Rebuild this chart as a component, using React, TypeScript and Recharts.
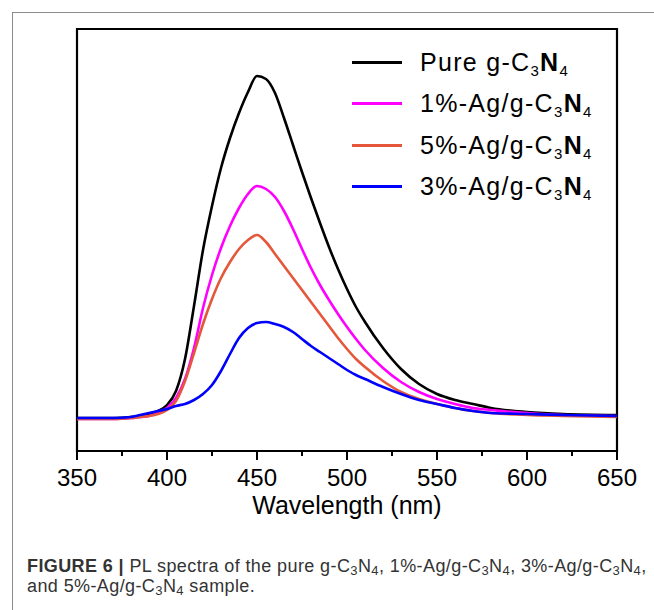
import { LineChart, Line, XAxis, YAxis, Legend, ReferenceArea } from 'recharts';

const wavelengths = [
  350, 360, 370, 380, 385, 390, 395, 400, 405, 410, 415, 420, 425, 430, 435, 440, 445, 450, 455, 460,
  465, 470, 475, 480, 485, 490, 495, 500, 505, 510, 520, 530, 540, 550, 560, 570, 580, 600, 620, 650,
];

const pureCN = [
  33, 33, 33, 34, 35, 37, 40, 46, 60, 92, 145, 201, 245, 283, 313, 338, 359, 375, 372, 358,
  333, 306, 279, 253, 228, 204, 182, 162, 144, 129, 103, 82, 67, 57, 51, 47, 43, 39, 37, 36,
];
const ag1 = [
  32, 32, 32, 33, 34, 35, 38, 43, 53, 72, 103, 143, 176, 203, 225, 243, 257, 265, 262, 254,
  240, 222, 202, 183, 166, 151, 137, 124, 112, 101, 83, 69, 59, 52, 47, 43, 41, 38, 36, 35,
];
const ag5 = [
  32, 32, 32, 33, 34, 35, 37, 41, 50, 70, 98, 127, 152, 173, 189, 202, 211, 216, 209, 197,
  185, 173, 161, 149, 137, 125, 113, 102, 92, 84, 70, 59, 52, 47, 43, 40, 38, 36, 35, 34,
];
const ag3 = [
  33, 33, 33, 34, 36, 38, 40, 42, 45, 47, 51, 57, 66, 80, 97, 113, 123, 128, 129, 127,
  124, 119, 112, 105, 99, 93, 87, 81, 76, 72, 64, 57, 51, 47, 43, 40, 38, 37, 36, 35,
];

const xTicks = [350, 375, 400, 425, 450, 475, 500, 525, 550, 575, 600, 625, 650];

const series = [
  { key: 'pure', label: 'Pure g-C', color: '#000000', values: pureCN },
  { key: 'ag1', label: '1%-Ag/g-C', color: '#ff00ff', values: ag1 },
  { key: 'ag5', label: '5%-Ag/g-C', color: '#e4573a', values: ag5 },
  { key: 'ag3', label: '3%-Ag/g-C', color: '#0000ff', values: ag3 },
];

const data = wavelengths.map((wl, i) => {
  const row: Record<string, number> = { wl };
  series.forEach((s) => {
    row[s.key] = s.values[i];
  });
  return row;
});

const FONT = "'Liberation Sans', Arial, Helvetica, sans-serif";

function WaveTick({ x, y, payload }: any) {
  const major = payload.value % 50 === 0;
  return (
    <g>
      <line x1={x} x2={x} y1={y} y2={y + (major ? 9 : 5)} stroke="#000" strokeWidth={2} />
      {major && (
        <text x={x} y={y + 35} textAnchor="middle" fontSize={24} fontFamily={FONT} fill="#000">
          {payload.value}
        </text>
      )}
    </g>
  );
}

function YTitle({ viewBox }: any) {
  const cx = viewBox.x - 20;
  const cy = viewBox.y + viewBox.height / 2 - 10;
  return (
    <text
      x={cx}
      y={cy}
      transform={`rotate(-90 ${cx} ${cy})`}
      textAnchor="middle"
      fontSize={22}
      fontFamily={FONT}
      fill="#000"
    >
      Intensity (a.u.)
    </text>
  );
}

function Formula({ prefix }: { prefix: string }) {
  return (
    <span>
      {prefix}
      <span style={{ fontSize: 15, position: 'relative', top: 5 }}>3</span>
      <b>N</b>
      <span style={{ fontSize: 15, position: 'relative', top: 5 }}>4</span>
    </span>
  );
}

function renderLegend() {
  return (
    <div style={{ fontFamily: FONT, fontSize: 25, color: '#000', letterSpacing: 1.3 }}>
      {series.map((s) => (
        <div key={s.key} style={{ display: 'flex', alignItems: 'center', height: 41.3 }}>
          <div style={{ width: 50, height: 3, background: s.color, marginRight: 18 }} />
          <Formula prefix={s.label} />
        </div>
      ))}
    </div>
  );
}

const sub = { fontSize: 13, lineHeight: 0, verticalAlign: -3 };

export default function App() {
  return (
    <div
      style={{
        position: 'absolute',
        left: 0,
        top: 0,
        width: 654,
        height: 610,
        overflow: 'hidden',
        background: '#fff',
      }}
    >
      <div
        style={{
          position: 'absolute',
          left: 12,
          top: 12,
          width: 700,
          height: 700,
          border: '1.5px solid #8c8c8c',
        }}
      />
      <div style={{ position: 'absolute', left: 0, top: 0 }}>
        <LineChart width={654} height={530} data={data} margin={{ top: 29, right: 37, left: 77, bottom: 9 }}>
          <XAxis
            dataKey="wl"
            type="number"
            domain={[350, 650]}
            ticks={xTicks}
            interval={0}
            tickSize={0}
            tickMargin={0}
            tickLine={false}
            axisLine={false}
            tick={<WaveTick />}
            height={70}
            label={{
              value: 'Wavelength (nm)',
              position: 'insideBottom',
              offset: 7,
              fontSize: 25,
              fontFamily: FONT,
              fill: '#000',
            }}
          />
          <YAxis
            domain={[0, 422]}
            width={0}
            tick={false}
            tickLine={false}
            axisLine={false}
            label={<YTitle />}
          />
          <ReferenceArea x1={350} x2={650} y1={0} y2={422} fill="none" stroke="#000" strokeWidth={2.2} />
          {series.map((s) => (
            <Line
              key={s.key}
              type="monotone"
              dataKey={s.key}
              stroke={s.color}
              strokeWidth={2.6}
              dot={false}
              isAnimationActive={false}
            />
          ))}
          <Legend
            layout="horizontal"
            verticalAlign="middle"
            align="center"
            content={renderLegend}
            wrapperStyle={{ left: 352, top: 42, width: 280 }}
          />
        </LineChart>
      </div>
      <div
        style={{
          position: 'absolute',
          left: 27,
          top: 556,
          width: 640,
          fontFamily: FONT,
          fontSize: 18,
          letterSpacing: 0.4,
          lineHeight: '20px',
          color: '#333',
          whiteSpace: 'nowrap',
        }}
      >
        <div>
          <b>FIGURE 6 |</b> PL spectra of the pure g-C<sub style={sub}>3</sub>N<sub style={sub}>4</sub>, 1%-Ag/g-C
          <sub style={sub}>3</sub>N<sub style={sub}>4</sub>, 3%-Ag/g-C<sub style={sub}>3</sub>N
          <sub style={sub}>4</sub>,
        </div>
        <div>
          and 5%-Ag/g-C<sub style={sub}>3</sub>N<sub style={sub}>4</sub> sample.
        </div>
      </div>
    </div>
  );
}
